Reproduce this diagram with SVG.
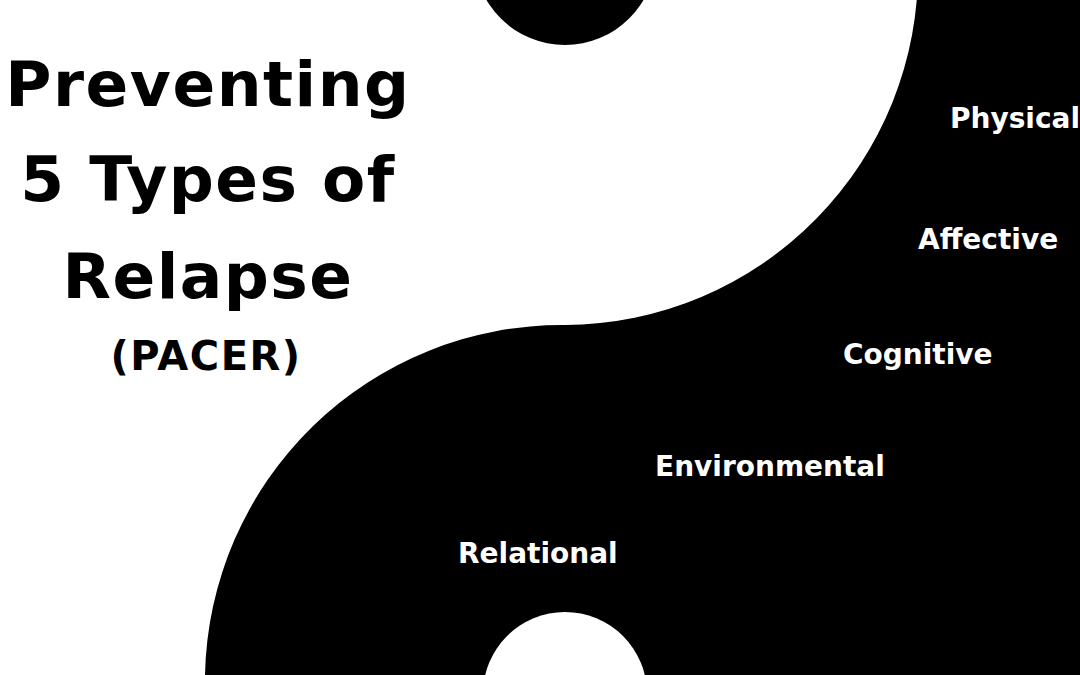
<svg xmlns="http://www.w3.org/2000/svg" width="1080" height="675" viewBox="0 0 1080 675">
<style>
.t{font-family:"DejaVu Sans","Liberation Sans",sans-serif;font-weight:bold;fill:#000;text-anchor:middle;letter-spacing:1.5px}
.l{font-family:"DejaVu Sans","Liberation Sans",sans-serif;font-weight:bold;fill:#fff;font-size:28px}
</style>
<rect width="1080" height="675" fill="#fff"/>
<g id="yinyang">
<path d="M 918 -35 A 355 355 0 0 1 565 325 A 357 357 0 0 0 205 675 L 1080 675 L 1080 -35 Z" fill="#000"/>
<circle cx="565" cy="-46" r="91" fill="#000"/>
<circle cx="565" cy="694" r="82" fill="#fff"/>
</g>
<g id="title">
<text class="t" x="208" y="106" font-size="63">Preventing</text>
<text class="t" x="208" y="201" font-size="63">5 Types of</text>
<text class="t" x="208" y="298" font-size="63">Relapse</text>
<text class="t" x="206" y="370" font-size="40">(PACER)</text>
</g>
<g id="labels">
<text class="l" x="950" y="128">Physical</text>
<text class="l" x="918" y="249">Affective</text>
<text class="l" x="843" y="364">Cognitive</text>
<text class="l" x="655" y="476">Environmental</text>
<text class="l" x="458" y="563">Relational</text>
</g>
</svg>
